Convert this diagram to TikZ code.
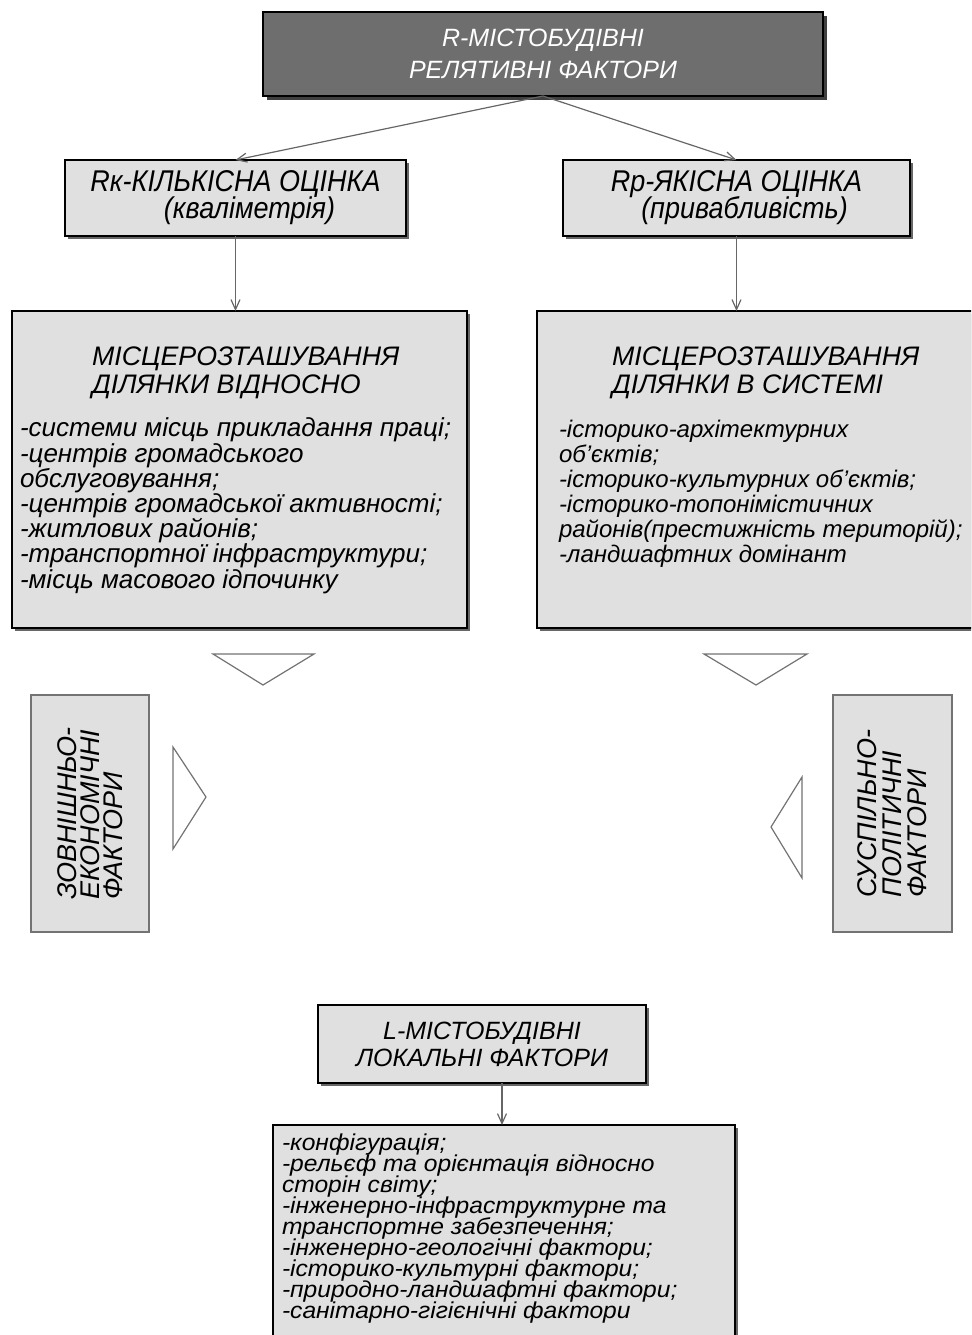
\documentclass[tikz,border=0pt]{standalone}
\usepackage{fontspec}
\setmainfont{Liberation Sans}
\newfontfamily\narrowsans[FakeStretch=0.9]{Liberation Sans}
\newfontfamily\widesans[FakeStretch=1.07]{Liberation Sans}
\usetikzlibrary{arrows.meta,shadows}
\definecolor{boxgray}{HTML}{E0E0E0}
\definecolor{topgray}{HTML}{6E6E6E}
\begin{document}
\lineskiplimit=-20pt
\begin{tikzpicture}[x=0.5pt,y=-0.5pt,
  every node/.style={inner sep=0pt, outer sep=0pt},
  box/.style={draw=black, line width=1pt, fill=boxgray,
    drop shadow={shadow xshift=1.5pt, shadow yshift=-1.5pt, fill=black!60, opacity=1}},
  topbox/.style={draw=black, line width=1pt, fill=topgray,
    drop shadow={shadow xshift=2pt, shadow yshift=-2pt, fill=black!75, opacity=1}},
  sidebox/.style={draw=black!55, line width=0.6pt, fill=boxgray},
  conn/.style={draw=black!60, line width=0.6pt, -{Straight Barb[length=5pt,width=4.5pt]}},
  tri/.style={draw=black!55, line width=0.6pt, fill=white},
  ttl/.style={font=\itshape\fontsize{13.4}{14}\selectfont},
  itm/.style={font=\itshape\fontsize{13}{12.6}\selectfont},
  rate/.style={font=\narrowsans\itshape\fontsize{15}{13.5}\selectfont}]
\path[use as bounding box] (0,0) rectangle (971,1335);
\clip (0,0) rectangle (971,1335);

% top
\node[topbox, minimum width=280pt, minimum height=42pt, align=center, text=white,
  font=\itshape\fontsize{12.5}{16}\selectfont] (top) at (543,54) {R-МІСТОБУДІВНІ\\РЕЛЯТИВНІ ФАКТОРИ};

% rating boxes
\node[box, minimum width=170.5pt, minimum height=38pt, align=center, rate] (rk) at (235.5,198) {Rк-КІЛЬКІСНА ОЦІНКА\\\hspace*{14pt}(кваліметрія)};
\node[box, minimum width=173.5pt, minimum height=38pt, align=center, rate] (rp) at (736.5,198) {Rр-ЯКІСНА ОЦІНКА\\\hspace*{8pt}(привабливість)};

% big boxes
\node[box, minimum width=227.5pt, minimum height=158.5pt] (locL) at (239.5,469.5) {};
\node[anchor=base west, align=left, ttl] (locLt) at (92,393) {МІСЦЕРОЗТАШУВАННЯ\\ДІЛЯНКИ ВІДНОСНО};
\node[anchor=base west, align=left, itm] (locLi) at (20,588) {-системи місць прикладання праці;\\-центрів громадського\\обслуговування;\\-центрів громадської активності;\\-житлових районів;\\-транспортної інфраструктури;\\-місць масового ідпочинку};

\node[box, minimum width=224pt, minimum height=158.5pt] (locR) at (761,469.5) {};
\node[anchor=base west, align=left, ttl] (locRt) at (612,393) {МІСЦЕРОЗТАШУВАННЯ\\ДІЛЯНКИ В СИСТЕМІ};
\node[anchor=base west, align=left, font=\itshape\fontsize{12}{12.5}\selectfont] (locRi) at (559,562) {-історико-архітектурних\\об'єктів;\\-історико-культурних об'єктів;\\-історико-топонімістичних\\районів(престижність територій);\\-ландшафтних домінант};

% triangles
\draw[tri] (213,654) -- (314,654) -- (263,685) -- cycle;
\draw[tri] (704,654) -- (807,654) -- (756,685) -- cycle;
\draw[tri] (173,747) -- (206,797) -- (173,849) -- cycle;
\draw[tri] (802,777) -- (771,827) -- (802,878) -- cycle;

% side boxes
\node[sidebox, rotate=90, minimum width=118.5pt, minimum height=59pt, align=left,
  font=\itshape\fontsize{13.5}{11.5}\selectfont] (sideL) at (90,813.5) {ЗОВНІШНЬО-\\ЕКОНОМІЧНІ\\ФАКТОРИ};
\node[sidebox, rotate=90, minimum width=118.5pt, minimum height=59.5pt, align=left,
  font=\itshape\fontsize{13.5}{12.5}\selectfont] (sideR) at (892.5,813.5) {СУСПІЛЬНО-\\ПОЛІТИЧНІ\\ФАКТОРИ};

% local factors
\node[box, minimum width=164pt, minimum height=39pt, align=center,
  font=\itshape\fontsize{12.5}{13.5}\selectfont] (Lbox) at (482,1044) {L-МІСТОБУДІВНІ\\ЛОКАЛЬНІ ФАКТОРИ};
\node[box, minimum width=231pt, minimum height=110pt] (bot) at (504,1235) {};
\node[anchor=base west, align=left, font=\widesans\itshape\fontsize{11.5}{10.5}\selectfont] (botT) at (282,1318) {-конфігурація;\\-рельєф та орієнтація відносно\\сторін світу;\\-інженерно-інфраструктурне та\\транспортне забезпечення;\\-інженерно-геологічні фактори;\\-історико-культурні фактори;\\-природно-ландшафтні фактори;\\-санітарно-гігієнічні фактори};

% connectors
\draw[conn] (top.south) -- (rk.north);
\draw[conn] (top.south) -- (rp.north);
\draw[conn] (rk.south) -- (rk.south |- locL.north);
\draw[conn] (rp.south) -- (rp.south |- locR.north);
\draw[conn] ([shift={(20,0)}]Lbox.south) -- ([shift={(20,0)}]Lbox.south |- bot.north);
\end{tikzpicture}
\end{document}
